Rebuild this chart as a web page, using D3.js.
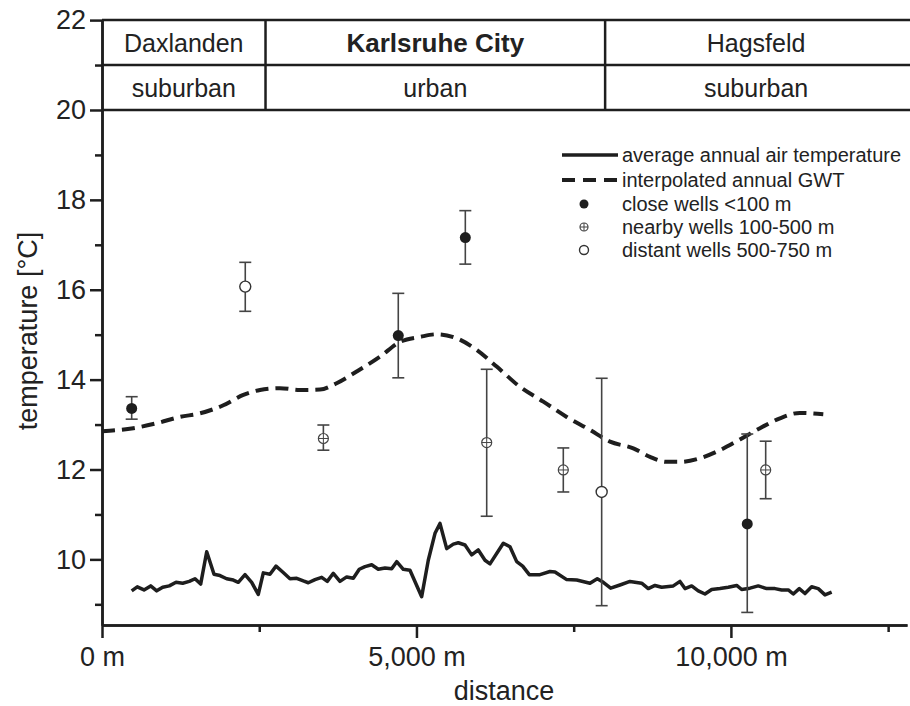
<!DOCTYPE html>
<html>
<head>
<meta charset="utf-8">
<script src="https://cdn.jsdelivr.net/npm/d3@7"></script>
<style>
  body { margin: 0; background: #fff; }
  text { font-family: "Liberation Sans", Arial, sans-serif; fill: #222; }
</style>
</head>
<body>
<div id="chart"></div>
<script>
// Données : température de l'air (ligne continue)
const airDist = [472,561,668,774,870,965,1070,1177,1283,1388,1479,1569,1665,1781,1876,1983,2088,2167,2274,2380,2485,2565,2671,2767,2873,2989,3096,3201,3280,3387,3493,3582,3678,3784,3891,3996,4091,4182,4288,4393,4500,4606,4686,4791,4897,5083,5188,5295,5374,5481,5586,5665,5772,5878,5983,6090,6169,6381,6487,6594,6689,6794,6964,7123,7203,7389,7548,7759,7875,7971,8088,8236,8395,8581,8686,8793,8899,9084,9190,9270,9376,9481,9588,9694,9826,9958,10092,10171,10303,10435,10569,10701,10807,10912,10992,11087,11178,11284,11389,11496,11602]
const airTemp = [9.30,9.39,9.32,9.41,9.30,9.38,9.41,9.49,9.47,9.51,9.57,9.45,10.17,9.67,9.64,9.57,9.54,9.49,9.66,9.49,9.22,9.70,9.67,9.85,9.72,9.57,9.58,9.52,9.48,9.55,9.60,9.51,9.69,9.51,9.61,9.58,9.78,9.84,9.88,9.78,9.81,9.79,9.95,9.78,9.76,9.17,9.98,10.58,10.80,10.24,10.34,10.37,10.32,10.10,10.21,9.98,9.90,10.36,10.28,9.95,9.85,9.66,9.66,9.73,9.72,9.55,9.54,9.47,9.57,9.49,9.36,9.43,9.51,9.47,9.35,9.42,9.38,9.41,9.51,9.35,9.41,9.30,9.23,9.33,9.35,9.38,9.42,9.33,9.36,9.41,9.35,9.35,9.32,9.32,9.23,9.35,9.24,9.39,9.35,9.21,9.27]

// GWT interpolée (ligne pointillée)
const gwtDist = [0,498,870,1240,1558,1929,2247,2512,2830,3148,3466,3731,4049,4420,4738,5056,5322,5640,5958,6276,6646,7017,7389,7760,8078,8448,8714,8979,9190,9508,9826,10144,10462,10780,11098,11469]
const gwtTemp = [12.85,12.92,13.03,13.17,13.25,13.43,13.66,13.77,13.81,13.77,13.78,13.92,14.18,14.51,14.84,14.95,15.01,14.92,14.66,14.29,13.84,13.51,13.17,12.88,12.62,12.47,12.28,12.17,12.17,12.25,12.43,12.67,12.92,13.14,13.26,13.23]

// Puits
const wellDist = [472,2278,3520,4711,5777,6117,7335,7945,10260,10553]
const wellTemp = [13.36,16.07,12.69,14.98,17.16,12.60,11.99,11.50,10.79,11.99]
const wellLow = [13.12,15.52,12.43,14.04,16.57,10.96,11.50,8.97,8.82,11.35]
const wellHigh = [13.62,16.61,12.99,15.92,17.76,14.23,12.48,14.03,12.79,12.63]
const wellType = ["close","distant","nearby","close","close","nearby","nearby","distant","close","nearby"]

// Tableau du haut
const districts = ["Daxlanden","Karlsruhe City","Hagsfeld"]
const zones = ["suburban","urban","suburban"]
const zoneBounds = [0,2600,8000,12800]

const legendLabels = ["average annual air temperature","interpolated annual GWT","close wells <100 m","nearby wells 100-500 m","distant wells 500-750 m"]

const width = 910
const height = 706
const ink = "#1e1e1e"

const svg = d3.select("#chart")
    .append("svg")
    .attr("width", width)
    .attr("height", height)

const x = d3.scaleLinear().domain([0, 12800]).range([102, 907])
const y = d3.scaleLinear().domain([8.54, 22]).range([625, 20.1])

// Axe Y
const yMajor = svg.append("g")
    .attr("transform", "translate(102,0)")
    .call(d3.axisLeft(y).tickValues([10,12,14,16,18,20,22]).tickSize(12).tickSizeOuter(0).tickPadding(4))
const yMinor = svg.append("g")
    .attr("transform", "translate(102,0)")
    .call(d3.axisLeft(y).tickValues([9,11,13,15,17,19,21]).tickSize(7).tickSizeOuter(0).tickFormat(""))

// Axe X
const xMajor = svg.append("g")
    .attr("transform", "translate(0,625)")
    .call(d3.axisBottom(x).tickValues([0,5000,10000]).tickSize(13).tickSizeOuter(0).tickPadding(9)
      .tickFormat(function(d){ return d3.format(",")(d) + " m" }))
const xMinor = svg.append("g")
    .attr("transform", "translate(0,625)")
    .call(d3.axisBottom(x).tickValues([2500,7500,12500]).tickSize(7).tickSizeOuter(0).tickFormat(""))

svg.selectAll(".domain, .tick line").attr("stroke", ink).attr("stroke-width", 2.5)
svg.selectAll(".tick text").style("font-size", "27px").attr("fill", ink)

// Titres des axes
svg.append("text")
    .attr("x", 504)
    .attr("y", 700)
    .attr("text-anchor", "middle")
    .style("font-size", "27px")
    .text("distance")

svg.append("text")
    .attr("transform", "translate(37,331) rotate(-90)")
    .attr("text-anchor", "middle")
    .style("font-size", "27px")
    .text("temperature [°C]")

// Tableau : lignes horizontales et séparateurs
svg.selectAll("line.row")
    .data([22, 21, 20])
    .enter()
    .append("line")
    .attr("class", "row")
    .attr("x1", 102)
    .attr("x2", width)
    .attr("y1", function(d){ return y(d) })
    .attr("y2", function(d){ return y(d) })
    .attr("stroke", ink)
    .attr("stroke-width", 2.5)

svg.selectAll("line.sep")
    .data(zoneBounds.slice(1, 3))
    .enter()
    .append("line")
    .attr("class", "sep")
    .attr("x1", function(d){ return x(d) })
    .attr("x2", function(d){ return x(d) })
    .attr("y1", y(22))
    .attr("y2", y(20))
    .attr("stroke", ink)
    .attr("stroke-width", 2.5)

svg.selectAll("text.district")
    .data(districts)
    .enter()
    .append("text")
    .attr("class", "district")
    .attr("x", function(d, i){ return (x(zoneBounds[i]) + x(zoneBounds[i+1])) / 2 })
    .attr("y", y(21.5) + 9)
    .attr("text-anchor", "middle")
    .style("font-size", function(d, i){ return i == 1 ? "26px" : "25px" })
    .style("font-weight", function(d, i){ return i == 1 ? "bold" : "normal" })
    .text(function(d){ return d })

svg.selectAll("text.zone")
    .data(zones)
    .enter()
    .append("text")
    .attr("class", "zone")
    .attr("x", function(d, i){ return (x(zoneBounds[i]) + x(zoneBounds[i+1])) / 2 })
    .attr("y", y(20.5) + 9)
    .attr("text-anchor", "middle")
    .style("font-size", "25px")
    .text(function(d){ return d })

// Courbes
const airLine = d3.line()
    .x(function(d){ return x(d[0]) })
    .y(function(d){ return y(d[1]) })

svg.append("path")
    .datum(d3.zip(airDist, airTemp))
    .attr("d", airLine)
    .attr("fill", "none")
    .attr("stroke", ink)
    .attr("stroke-width", 3.5)
    .attr("stroke-linejoin", "round")

const gwtLine = d3.line()
    .curve(d3.curveMonotoneX)
    .x(function(d){ return x(d[0]) })
    .y(function(d){ return y(d[1]) })

svg.append("path")
    .datum(d3.zip(gwtDist, gwtTemp))
    .attr("d", gwtLine)
    .attr("fill", "none")
    .attr("stroke", ink)
    .attr("stroke-width", 4)
    .attr("stroke-dasharray", "13,7")

// Barres d'erreur
const wells = wellDist.map(function(d, i){
  return { dist: d, temp: wellTemp[i], low: wellLow[i], high: wellHigh[i], type: wellType[i] }
})

const eb = svg.selectAll("g.well")
    .data(wells)
    .enter()
    .append("g")
    .attr("class", "well")

eb.append("line")
    .attr("x1", function(d){ return x(d.dist) })
    .attr("x2", function(d){ return x(d.dist) })
    .attr("y1", function(d){ return y(d.low) })
    .attr("y2", function(d){ return y(d.high) })
    .attr("stroke", "#444")
    .attr("stroke-width", 1.6)

eb.selectAll("line.cap")
    .data(function(d){ return [d.low, d.high].map(function(v){ return { dist: d.dist, v: v } }) })
    .enter()
    .append("line")
    .attr("class", "cap")
    .attr("x1", function(d){ return x(d.dist) - 6 })
    .attr("x2", function(d){ return x(d.dist) + 6 })
    .attr("y1", function(d){ return y(d.v) })
    .attr("y2", function(d){ return y(d.v) })
    .attr("stroke", "#444")
    .attr("stroke-width", 1.6)

// Symboles
function drawMarker(g, type, cx, cy, r){
  if (type == "close"){
    g.append("circle").attr("cx", cx).attr("cy", cy).attr("r", r).attr("fill", ink)
  }
  else if (type == "distant"){
    g.append("circle").attr("cx", cx).attr("cy", cy).attr("r", r).attr("fill", "#fff")
      .attr("stroke", "#333").attr("stroke-width", 1.4)
  }
  else {
    g.append("circle").attr("cx", cx).attr("cy", cy).attr("r", r - 0.5).attr("fill", "#fff")
      .attr("stroke", "#444").attr("stroke-width", 1.2)
    g.append("line").attr("x1", cx - r + 0.5).attr("x2", cx + r - 0.5).attr("y1", cy).attr("y2", cy)
      .attr("stroke", "#444").attr("stroke-width", 1)
    g.append("line").attr("x1", cx).attr("x2", cx).attr("y1", cy - r + 0.5).attr("y2", cy + r - 0.5)
      .attr("stroke", "#444").attr("stroke-width", 1)
  }
}

eb.each(function(d){
  drawMarker(d3.select(this), d.type, x(d.dist), y(d.temp), 5.5)
})

// Légende
const legend = svg.append("g").attr("transform", "translate(562,0)")
const legendY = [155, 180, 204, 227, 250]

legend.append("line").attr("x1", 0).attr("x2", 56).attr("y1", legendY[0]).attr("y2", legendY[0])
    .attr("stroke", ink).attr("stroke-width", 3.5)
legend.append("line").attr("x1", 0).attr("x2", 56).attr("y1", legendY[1]).attr("y2", legendY[1])
    .attr("stroke", ink).attr("stroke-width", 4).attr("stroke-dasharray", "13,8")
drawMarker(legend, "close", 22, legendY[2], 4.5)
drawMarker(legend, "nearby", 22, legendY[3], 4.5)
drawMarker(legend, "distant", 22, legendY[4], 4.5)

legend.selectAll("text")
    .data(legendLabels)
    .enter()
    .append("text")
    .attr("x", 60)
    .attr("y", function(d, i){ return legendY[i] + 7 })
    .style("font-size", "20px")
    .text(function(d){ return d })
</script>
</body>
</html>
